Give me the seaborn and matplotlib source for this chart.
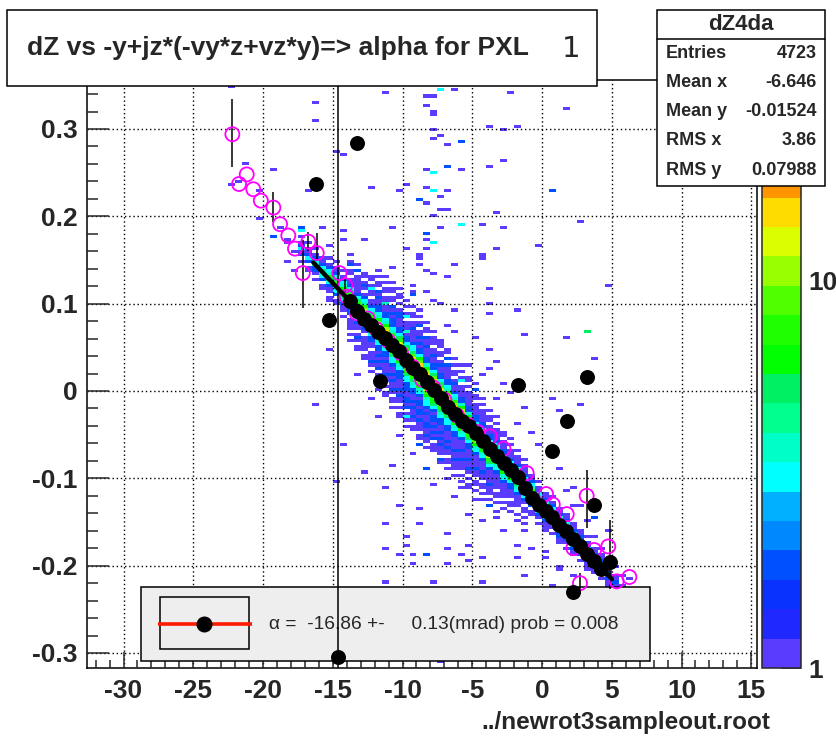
import numpy as np
import pandas as pd
import matplotlib
matplotlib.use("Agg")
import matplotlib.pyplot as plt
import seaborn as sns
from matplotlib.colors import ListedColormap, LogNorm
from matplotlib.patches import Rectangle
from matplotlib.ticker import NullFormatter, MultipleLocator

sns.set_style("white")
plt.rcParams["font.family"] = ["Liberation Sans", "DejaVu Sans"]
plt.rcParams["axes.unicode_minus"] = False

# ------------------------------------------------------------
# histogram binning / ranges
# ------------------------------------------------------------
BIN_W = 0.5
BIN_H = 0.0035
HIST_XRANGE = (-35, 15)
HIST_YRANGE = (-0.35, 0.35)
X_LIM = (-32.62, 15.41)
Y_LIM = (-0.3172, 0.3561)
Z_MIN, Z_MAX = 1, 32.8

# ------------------------------------------------------------
# 2D histogram: band columns (bin centre x, lowest bin y, contents going up)
# ------------------------------------------------------------
band_x = [-17.25, -16.75, -16.25, -15.75, -15.25, -14.75, -14.25, -13.75, -13.25, -12.75,
          -12.25, -11.75, -11.25, -10.75, -10.25, -9.75, -9.25, -8.75, -8.25, -7.75,
          -7.25, -6.75, -6.25, -5.75, -5.25, -4.75, -4.25, -3.75, -3.25, -2.75,
          -2.25, -1.75, -1.25, -0.75, -0.25, 0.25, 0.75, 1.25, 1.75, 2.25,
          2.75, 3.25, 3.75, 4.25, 4.75, 5.25, 5.75]
band_ylo = [0.1476, 0.1391, 0.1272, 0.1187, 0.1067, 0.0983, 0.0863, 0.0568, 0.0449, 0.0364,
            0.0244, 0.0019, -0.0100, -0.0185, -0.0305, -0.0389, -0.0474, -0.0559, -0.0643, -0.0728,
            -0.0813, -0.0898, -0.0982, -0.1032, -0.1117, -0.1166, -0.1251, -0.1336, -0.1385, -0.1330,
            -0.1415, -0.1500, -0.1549, -0.1424, -0.1509, -0.1593, -0.1643, -0.1728, -0.1812, -0.1862,
            -0.1947, -0.2032, -0.2081, -0.2166, -0.2216, -0.2300, -0.2350]
band_counts = [
    [1, 0, 2, 1, 3, 2, 1, 0, 1],
    [1, 1, 0, 2, 3, 2, 1, 1, 0, 1],
    [1, 0, 1, 2, 2, 4, 3, 2, 1, 0, 1],
    [1, 1, 0, 2, 3, 4, 5, 3, 2, 1, 1],
    [1, 0, 1, 1, 2, 3, 5, 6, 4, 3, 2, 1, 0, 1],
    [1, 1, 0, 2, 3, 4, 6, 7, 5, 3, 2, 1, 1, 0, 1],
    [1, 0, 1, 1, 2, 3, 5, 7, 8, 6, 4, 3, 2, 1, 0, 1],
    [1, 0, 1, 0, 1, 1, 1, 1, 0, 2, 2, 4, 6, 8, 9, 7, 5, 3, 2, 1, 1, 0, 1, 1, 0, 1, 1, 0, 1],
    [0, 1, 1, 0, 1, 2, 1, 0, 1, 1, 2, 3, 5, 7, 10, 11, 8, 5, 3, 2, 1, 1, 0, 1, 1, 1, 0, 1, 0, 1],
    [1, 1, 0, 1, 1, 1, 1, 1, 0, 1, 2, 3, 4, 7, 9, 12, 10, 7, 4, 3, 2, 1, 0, 1, 2, 1, 0, 1, 1],
    [1, 0, 1, 2, 1, 1, 1, 0, 1, 1, 2, 2, 3, 5, 8, 11, 13, 11, 8, 5, 3, 2, 1, 1, 0, 1, 1, 2, 1, 0, 1, 1],
    [1, 0, 1, 0, 1, 1, 0, 2, 1, 2, 1, 2, 1, 2, 2, 3, 4, 6, 9, 12, 15, 13, 9, 6, 4, 3, 2, 2, 1, 1, 2,
     1, 1, 0, 1, 1, 0, 1, 0, 1],
    [0, 1, 1, 0, 1, 0, 1, 1, 2, 1, 1, 1, 2, 1, 2, 2, 3, 4, 6, 10, 13, 17, 14, 10, 6, 4, 3, 2, 2, 1, 1,
     2, 1, 1, 0, 1, 1, 0, 1, 0, 1],
    [1, 0, 1, 1, 0, 1, 2, 1, 1, 2, 1, 2, 1, 1, 2, 3, 3, 5, 7, 11, 15, 19, 16, 11, 7, 4, 3, 2, 2, 1, 1, 2,
     1, 2, 0, 1, 1, 0, 1, 1],
    [1, 1, 0, 1, 0, 1, 1, 2, 1, 2, 1, 1, 1, 2, 2, 2, 3, 4, 6, 8, 12, 17, 22, 18, 12, 8, 5, 3, 2, 2, 1, 1, 1,
     2, 1, 1, 0, 1, 0, 1, 1, 0, 1],
    [1, 0, 1, 1, 1, 0, 2, 1, 2, 2, 1, 1, 2, 2, 2, 3, 3, 5, 7, 9, 14, 19, 25, 20, 13, 8, 5, 3, 2, 2, 1, 2,
     1, 1, 1, 0, 2, 1, 0, 1, 0, 1],
    [0, 1, 1, 0, 1, 2, 1, 1, 2, 1, 2, 1, 1, 2, 2, 3, 4, 5, 8, 10, 15, 21, 28, 22, 14, 9, 5, 3, 2, 2, 1, 1, 1,
     1, 2, 1, 1, 0, 1, 1, 0, 1],
    [1, 1, 0, 1, 1, 1, 2, 1, 2, 2, 1, 2, 2, 1, 2, 3, 4, 6, 8, 11, 16, 22, 30, 24, 15, 9, 6, 3, 2, 2, 1, 2, 1,
     2, 1, 1, 0, 1, 1, 0, 1, 0, 1],
    [1, 0, 1, 1, 2, 1, 1, 2, 2, 1, 1, 2, 1, 2, 3, 3, 4, 6, 9, 12, 17, 24, 31, 25, 16, 10, 6, 4, 2, 2, 1, 1,
     1, 2, 1, 1, 1, 0, 1, 1, 0, 1],
    [0, 1, 1, 1, 0, 2, 1, 2, 1, 2, 1, 2, 2, 1, 2, 3, 5, 6, 8, 11, 16, 23, 29, 23, 15, 9, 5, 3, 2, 2, 1, 1,
     2, 1, 1, 0, 1, 1, 1, 0, 1],
    [1, 1, 0, 1, 1, 1, 2, 1, 2, 1, 2, 1, 1, 2, 2, 3, 4, 5, 7, 10, 14, 20, 26, 21, 14, 8, 5, 3, 2, 2, 1,
     1, 2, 1, 0, 1, 1, 0, 1, 0, 1],
    [1, 0, 1, 1, 0, 1, 1, 2, 1, 2, 1, 1, 1, 2, 2, 3, 3, 5, 6, 9, 13, 18, 24, 19, 12, 8, 4, 3, 2, 2, 1, 1,
     1, 1, 2, 0, 1, 0, 1, 1],
    [0, 1, 0, 1, 1, 1, 2, 1, 1, 2, 1, 1, 1, 1, 2, 2, 3, 4, 6, 8, 12, 16, 21, 17, 11, 7, 4, 3, 2, 1, 1,
     2, 1, 0, 1, 1, 0, 1, 0, 1],
    [1, 0, 1, 0, 1, 1, 1, 2, 1, 1, 2, 1, 1, 1, 2, 3, 4, 6, 8, 11, 15, 19, 15, 10, 6, 4, 2, 2, 1, 1, 1,
     1, 0, 1, 1, 0, 1, 0, 1],
    [1, 1, 0, 1, 0, 1, 2, 1, 1, 2, 1, 1, 1, 2, 2, 3, 5, 7, 10, 13, 17, 14, 9, 6, 4, 2, 2, 1, 1, 1,
     1, 1, 0, 1, 0, 1, 1],
    [0, 1, 0, 1, 1, 0, 1, 1, 2, 1, 1, 1, 1, 2, 3, 4, 6, 9, 12, 16, 13, 9, 5, 3, 2, 2, 1, 1, 1,
     1, 0, 1, 1, 0, 1, 0, 1],
    [1, 0, 1, 0, 1, 1, 0, 1, 1, 2, 1, 1, 1, 2, 3, 4, 6, 8, 11, 14, 12, 8, 5, 3, 2, 2, 1, 1,
     1, 1, 0, 1, 0, 1],
    [0, 1, 0, 1, 0, 1, 1, 1, 2, 1, 1, 1, 1, 2, 3, 5, 7, 10, 13, 11, 7, 5, 3, 2, 2, 1, 1, 1,
     0, 1, 1, 0, 1],
    [1, 0, 0, 1, 0, 1, 1, 0, 1, 1, 1, 1, 1, 2, 3, 4, 7, 9, 12, 10, 7, 4, 3, 2, 1, 1, 1,
     1, 0, 1, 0, 1],
    [1, 0, 1, 0, 1, 1, 1, 1, 1, 2, 3, 4, 6, 9, 11, 9, 6, 4, 2, 2, 1, 1, 1, 0, 1, 1],
    [0, 1, 0, 1, 1, 0, 1, 1, 1, 2, 2, 4, 6, 8, 10, 8, 6, 3, 2, 1, 1, 1, 0, 1, 0, 1],
    [1, 0, 1, 0, 0, 1, 1, 1, 1, 2, 3, 4, 5, 7, 10, 8, 5, 3, 2, 1, 1, 1, 0, 1],
    [0, 1, 0, 1, 0, 1, 1, 0, 1, 2, 3, 5, 7, 9, 7, 5, 3, 2, 1, 1, 1, 0, 1],
    [1, 1, 0, 2, 3, 4, 6, 9, 7, 4, 3, 2, 1, 1],
    [1, 0, 1, 2, 3, 4, 6, 8, 6, 4, 3, 1, 1, 0, 1],
    [1, 1, 1, 2, 3, 5, 7, 8, 6, 4, 2, 1, 1],
    [1, 0, 1, 2, 3, 5, 7, 5, 3, 2, 1, 0, 1],
    [1, 1, 2, 2, 3, 5, 7, 5, 4, 2, 1, 1],
    [1, 0, 1, 2, 4, 5, 6, 5, 3, 2, 1, 1],
    [1, 1, 2, 3, 4, 6, 4, 3, 2, 1, 1],
    [1, 0, 2, 3, 4, 5, 4, 2, 2, 1, 1],
    [1, 1, 1, 2, 3, 5, 4, 3, 1, 1, 0, 1],
    [1, 1, 2, 3, 4, 3, 2, 1, 1],
    [1, 0, 2, 2, 3, 3, 2, 1, 1],
    [1, 1, 2, 2, 2, 1, 1],
    [1, 1, 1, 2, 1, 1],
    [1, 0, 1, 1, 1],
]

# scattered cells away from the band
scat_x = [-22.25, -16.25, -16.25, -11.25, -21.25, -21.75, -22.25, -19.25, -20.25, -20.25,
          -14.75, -14.25, -12.25, -10.25, -16.75, -17.25, -17.25, -19.25, -18.75, -18.25,
          -18.25, -15.75, -14.25, -14.25, -12.75, -10.75, -15.25, -17.75, -18.25, -17.75,
          -7.25, -6.25, -8.25, -7.75, -2.25, -8.25, -7.75, -7.75, 1.75, -7.75,
          -7.25, -7.75, -5.75, -6.75, -3.75, -2.75, -1.75, -2.75, -3.75, -6.75,
          -8.25, -7.75, -5.75, -9.75, -8.25, -7.75, -6.75, -8.75, -8.25, -7.25,
          -7.25, -6.75, -7.75, -3.25, 0.75, 2.75, -7.25, -5.75, -4.25, -2.75,
          -8.25, -8.25, -7.75, -0.25, -9.75, -8.25, -3.25, -8.75, -4.25, -10.75,
          -8.75, -8.75, -8.25, -7.75, -6.75, -6.25, -10.75, -9.25, -13.25, -12.25,
          -11.75, -9.25, -8.25, -9.25, -7.75, -7.25, -6.25, -15.25, -13.75, -13.25,
          -11.25, -10.25, -9.75, -10.75, -9.75, -8.25, -9.25, -8.75, -6.75, -6.25,
          -7.25, -6.75, -4.25, -3.75, -3.75, -3.75, -1.75, -1.25, 1.75, 3.75,
          4.75, 3.25, -3.75, -3.25, -3.75, 0.75, 1.25, -0.75, 2.75, 1.75,
          -5.25, -4.25, -2.75, -2.25, -1.25, -3.25, -4.75, -1.75, -5.75, -4.75,
          -16.25, -14.25, -11.25, -9.75, -11.25, -8.25, -7.75, -9.25, -6.75, -12.75,
          -10.25, -8.75, -11.25, -9.75, -8.75, -6.75, -14.75, -15.25, -7.75, -7.25,
          -10.25, -9.25, -8.25, -7.75, -6.25, -5.25, -4.25, -11.75, -12.25, -9.75,
          -8.75, -7.25, -6.75, -5.75, -4.75, -3.75, -3.25, -2.75, -1.75, -1.25,
          -0.75, 0.25, 1.25, 2.25, -5.25, -4.25, -10.75, -13.25, -11.25, -10.25,
          -9.25, -6.75, -5.75, -5.25, -4.25, -1.75, -1.25, 0.25, 0.75, 1.25,
          -0.25, 0.75, 1.25, 2.25, 2.75, 3.25, 3.75, 4.25, 5.25, 5.75,
          6.25, 4.75, 3.75, 2.25, 1.75, 5.25, 4.25, 6.25]
scat_y = [0.347, 0.331, 0.310, 0.343, 0.260, 0.239, 0.236, 0.254, 0.230, 0.199,
          0.275, 0.273, 0.233, 0.231, 0.230, 0.188, 0.183, 0.176, 0.187, 0.174,
          0.170, 0.187, 0.183, 0.172, 0.172, 0.187, 0.166, 0.160, 0.149, 0.137,
          0.345, 0.345, 0.339, 0.337, 0.343, 0.326, 0.320, 0.316, 0.324, 0.300,
          0.293, 0.290, 0.286, 0.281, 0.302, 0.299, 0.302, 0.266, 0.256, 0.259,
          0.255, 0.251, 0.255, 0.237, 0.233, 0.231, 0.230, 0.219, 0.214, 0.222,
          0.210, 0.207, 0.203, 0.205, 0.229, 0.195, 0.188, 0.190, 0.190, 0.188,
          0.179, 0.172, 0.170, 0.168, 0.163, 0.164, 0.163, 0.155, 0.157, 0.143,
          0.151, 0.145, 0.140, 0.135, 0.131, 0.147, 0.126, 0.120, 0.122, 0.118,
          0.113, 0.113, 0.113, 0.109, 0.105, 0.101, 0.094, 0.104, 0.145, 0.137,
          0.100, 0.090, 0.085, 0.081, 0.070, 0.060, 0.050, 0.074, 0.076, 0.067,
          0.055, 0.036, 0.153, 0.116, 0.099, 0.090, 0.094, 0.065, 0.062, 0.036,
          0.120, 0.069, 0.046, 0.034, 0.027, -0.008, -0.023, -0.048, -0.015, -0.038,
          0.030, 0.020, 0.010, -0.003, -0.020, -0.010, 0.002, -0.035, 0.012, 0.060,
          -0.015, -0.061, -0.180, -0.176, -0.220, -0.186, -0.220, -0.197, -0.197, -0.092,
          -0.130, -0.136, -0.153, -0.166, -0.153, -0.164, -0.103, 0.048, -0.277, -0.310,
          -0.050, -0.070, -0.090, -0.105, -0.120, -0.140, -0.150, -0.030, -0.010, -0.030,
          -0.060, -0.080, -0.100, -0.110, -0.125, -0.130, -0.145, -0.160, -0.175, -0.160,
          -0.180, -0.185, -0.200, -0.210, -0.175, -0.190, -0.085, 0.020, -0.110, -0.187,
          -0.188, -0.180, -0.187, -0.194, -0.217, -0.189, -0.212, -0.189, -0.222, -0.205,
          -0.060, -0.070, -0.090, -0.110, -0.130, -0.150, -0.165, -0.180, -0.200, -0.210,
          -0.225, -0.160, -0.145, -0.130, -0.115, -0.232, -0.228, -0.215]
scat_n = [1, 1, 1, 1, 1, 1, 1, 1, 1, 1,
          1, 1, 1, 1, 1, 2, 3, 2, 1, 1,
          1, 1, 1, 1, 1, 1, 1, 1, 1, 1,
          3, 1, 1, 1, 1, 1, 1, 1, 1, 1,
          1, 1, 2, 1, 1, 1, 1, 1, 1, 2,
          1, 3, 1, 1, 1, 3, 1, 2, 1, 1,
          1, 1, 1, 1, 2, 1, 1, 3, 1, 1,
          2, 1, 3, 1, 1, 1, 1, 1, 1, 1,
          1, 1, 1, 1, 1, 1, 1, 1, 1, 1,
          1, 1, 1, 2, 1, 1, 1, 1, 1, 1,
          2, 1, 1, 1, 2, 1, 1, 1, 1, 1,
          1, 1, 1, 1, 1, 1, 1, 1, 1, 1,
          1, 5, 1, 1, 1, 1, 1, 1, 1, 1,
          1, 1, 1, 1, 1, 1, 1, 1, 2, 1,
          1, 1, 1, 1, 1, 2, 1, 1, 1, 1,
          1, 1, 1, 1, 1, 1, 1, 1, 1, 1,
          1, 1, 2, 1, 1, 1, 1, 1, 1, 2,
          2, 1, 1, 1, 1, 1, 1, 1, 1, 1,
          1, 1, 1, 1, 1, 1, 1, 1, 1, 1,
          1, 1, 1, 1, 1, 1, 1, 1, 1, 1,
          1, 1, 1, 1, 1, 1, 1, 1, 1, 1,
          1, 1, 2, 1, 1, 2, 1, 1]

# ------------------------------------------------------------
# profile points (black) and second profile (magenta open circles)
# ------------------------------------------------------------
prof_x = [-13.75, -13.25, -12.75, -12.25, -11.75, -11.25, -10.75, -10.25, -9.75, -9.25,
          -8.75, -8.25, -7.75, -7.25, -6.75, -6.25, -5.75, -5.25, -4.75, -4.25,
          -3.75, -3.25, -2.75, -2.25, -1.75, -1.25, -0.75, -0.25, 0.25, 0.75,
          1.25, 1.75, 2.25, 2.75, 3.25, 3.75, 4.25,
          -16.2, -13.26, -15.27, -11.61, -1.70, 3.25, 1.77, 0.70, 3.73, 2.24, -14.62, 4.87]
prof_y = [0.103, 0.092, 0.082, 0.076, 0.067, 0.061, 0.053, 0.046, 0.035, 0.026,
          0.019, 0.010, 0.001, -0.008, -0.018, -0.026, -0.034, -0.040, -0.048, -0.057,
          -0.066, -0.074, -0.083, -0.091, -0.099, -0.111, -0.122, -0.131, -0.137, -0.144,
          -0.154, -0.160, -0.170, -0.178, -0.187, -0.195, -0.204,
          0.237, 0.284, 0.081, 0.012, 0.007, 0.016, -0.034, -0.069, -0.131, -0.230, -0.305, -0.196]
prof_err_x = [4.87, -14.62]
prof_err_y = [-0.196, -0.305]
prof_err_lo = [0.031, 0.02]
prof_err_hi = [0.048, 0.70]

mag_x = [-22.2, -21.72, -21.17, -20.70, -20.16, -19.26, -18.78, -18.19, -17.71, -17.15,
         -16.75, -16.15, -14.53, -14.10, -14.0, -13.28,
         -12.5, -11.9, -11.0, -10.1, -9.3, -8.6, -7.8, -7.0, -6.1, -5.3, -4.6,
         -3.73, -2.77, -1.10, 0.29, 0.77, 1.77, 2.24, 3.20, 3.73, 4.75, 2.72, 5.35, 6.26]
mag_y = [0.294, 0.237, 0.248, 0.231, 0.218, 0.210, 0.191, 0.178, 0.163, 0.135,
         0.171, 0.158, 0.135, 0.121, 0.108, 0.089,
         0.083, 0.071, 0.057, 0.043, 0.028, 0.013, 0.004, -0.010, -0.028, -0.039, -0.047,
         -0.052, -0.066, -0.094, -0.118, -0.130, -0.141, -0.180, -0.120, -0.182, -0.178, -0.220, -0.218, -0.213]
mag_err_x = [-22.2, -19.26, -17.15, -16.75, -16.15, -14.10, 3.20, 2.72]
mag_err_y = [0.294, 0.210, 0.135, 0.171, 0.158, 0.121, -0.120, -0.220]
mag_err_lo = [0.038, 0.017, 0.040, 0.011, 0.009, 0.008, 0.037, 0.012]
mag_err_hi = [0.040, 0.018, 0.038, 0.011, 0.023, 0.008, 0.029, 0.012]

# straight-line fit (slope in rad)
fit_p0 = -0.1306
fit_p1 = -0.01694
fit_xmin, fit_xmax = -16.4, 5.0

# ------------------------------------------------------------
# text
# ------------------------------------------------------------
title_text = "dZ vs -y+jz*(-vy*z+vz*y)=> alpha for PXL"
title_suffix = "1"
stats_title = "dZ4da"
stats_labels = ["Entries", "Mean x", "Mean y", "RMS x", "RMS y"]
stats_values = ["4723", "-6.646", "-0.01524", "3.86", "0.07988"]
legend_text = "\u03b1 =  -16.86 +-     0.13(mrad) prob = 0.008"
x_label = "../newrot3sampleout.root"
xtick_vals = [-30, -25, -20, -15, -10, -5, 0, 5, 10, 15]
ytick_vals = [-0.3, -0.2, -0.1, 0.0, 0.1, 0.2, 0.3]
cbar_ticks = [1, 10]
cbar_minor = [2, 3, 4, 5, 6, 7, 8, 9, 20, 30]

palette_colors = ["#5a3cff", "#1e28ff", "#0a32ff", "#0050ff", "#0088ff",
                  "#00b0ff", "#00ffff", "#00ffc8", "#00ff8c", "#00f064",
                  "#00ff00", "#1eff00", "#50ff00", "#96ff00", "#dcff00",
                  "#ffdc00", "#ff9600", "#ff6400", "#ff3200", "#ff0000"]

# ------------------------------------------------------------
# build the histogram cells
# ------------------------------------------------------------
rows = []
for cx, ylo, counts in zip(band_x, band_ylo, band_counts):
    for k, n in enumerate(counts):
        if n > 0:
            rows.append((cx, ylo + k * BIN_H, n))
for cx, cy, n in zip(scat_x, scat_y, scat_n):
    rows.append((cx, cy, n))
cells = pd.DataFrame(rows, columns=["x", "y", "n"])

cmap = ListedColormap(palette_colors)

# ------------------------------------------------------------
# figure
# ------------------------------------------------------------
fig = plt.figure(figsize=(8.37, 7.42), dpi=100)
ax = fig.add_axes([87 / 837, 74 / 742, 670 / 837, 588 / 742])
cax = fig.add_axes([762 / 837, 74 / 742, 39 / 837, 588 / 742])

sns.histplot(data=cells, x="x", y="y", weights="n",
             binwidth=(BIN_W, BIN_H), binrange=(HIST_XRANGE, HIST_YRANGE),
             cmap=cmap, ax=ax, zorder=1)
mesh = ax.collections[0]
mesh.set_norm(LogNorm(vmin=Z_MIN, vmax=Z_MAX))

# legend box sits above the histogram but below the markers
ax.add_patch(Rectangle((0.0806, 0.0119), 0.7597, 0.1259, transform=ax.transAxes,
                       facecolor="#eeeeee", edgecolor="black", lw=1.1, zorder=2.7))
ax.add_patch(Rectangle((0.109, 0.0318), 0.1328, 0.0895, transform=ax.transAxes,
                       facecolor="#eeeeee", edgecolor="black", lw=1.1, zorder=2.75))
ax.plot([0.106, 0.2463], [0.0748, 0.0748], transform=ax.transAxes,
        color="#ff1a00", lw=2.6, zorder=2.8, solid_capstyle="butt")
ax.plot([0.1746], [0.0748], "o", transform=ax.transAxes, color="black",
        ms=10.5, zorder=2.85)
ax.text(0.271, 0.0748, legend_text, transform=ax.transAxes, fontsize=13.8,
        va="center", ha="left", zorder=2.9)

# error bars
ax.errorbar(mag_err_x, mag_err_y, yerr=[mag_err_lo, mag_err_hi], fmt="none",
            ecolor="black", elinewidth=1.1, capsize=0, zorder=3.2)
ax.errorbar(prof_err_x, prof_err_y, yerr=[prof_err_lo, prof_err_hi], fmt="none",
            ecolor="black", elinewidth=1.1, capsize=0, zorder=3.2)

sns.scatterplot(x=mag_x, y=mag_y, ax=ax, marker="o", s=102, facecolor="none",
                edgecolor="#ff00ff", linewidth=1.3, zorder=3.4)
sns.scatterplot(x=prof_x, y=prof_y, ax=ax, marker="o", s=116, color="black",
                edgecolor="black", linewidth=0, zorder=3.6)

fit_x = np.array([fit_xmin, fit_xmax])
fit_y = fit_p0 + fit_p1 * fit_x
sns.lineplot(x=fit_x, y=fit_y, ax=ax, color="black", linewidth=3.2, zorder=3.8)

# axes styling
ax.set_xlim(*X_LIM)
ax.set_ylim(*Y_LIM)
ax.set_xlabel("")
ax.set_ylabel("")
ax.set_xticks(xtick_vals)
ax.set_xticklabels([f"{v:g}" for v in xtick_vals], fontsize=19, fontweight="bold")
ax.set_yticks(ytick_vals)
ax.set_yticklabels([f"{v:g}" for v in ytick_vals], fontsize=19, fontweight="bold")
ax.xaxis.set_minor_locator(MultipleLocator(1))
ax.yaxis.set_minor_locator(MultipleLocator(0.02))
ax.tick_params(axis="x", which="major", direction="in", length=11.5, width=1.1,
               pad=8, top=False, bottom=True)
ax.tick_params(axis="x", which="minor", direction="in", length=5.8, width=1.1,
               top=False, bottom=True)
ax.tick_params(axis="y", which="major", direction="in", length=16, width=1.1,
               pad=7, left=True, right=False)
ax.tick_params(axis="y", which="minor", direction="in", length=8, width=1.1,
               left=True, right=False)
ax.set_axisbelow(False)
ax.grid(True, which="major", color="black", linestyle=(0, (1, 2)), linewidth=1.0)
for sp in ax.spines.values():
    sp.set_linewidth(1.1)
    sp.set_color("black")

# colour bar
cb = fig.colorbar(mesh, cax=cax)
cb.outline.set_linewidth(1.1)
cb.set_ticks(cbar_ticks, labels=[str(t) for t in cbar_ticks],
             fontsize=19, fontweight="bold")
cb.set_ticks(cbar_minor, minor=True)
cax.yaxis.set_minor_formatter(NullFormatter())
cax.yaxis.set_ticks_position("right")
cax.tick_params(which="major", direction="in", length=14.4, width=1.1, pad=5)
cax.tick_params(which="minor", direction="in", length=7.2, width=1.1)

# ------------------------------------------------------------
# boxes drawn on top, in pixel coordinates
# ------------------------------------------------------------
deco = fig.add_axes([0, 0, 1, 1], zorder=10)
deco.set_xlim(0, 837)
deco.set_ylim(742, 0)
deco.set_facecolor("none")
deco.axis("off")

deco.add_patch(Rectangle((7, 10), 590, 76, facecolor="white", edgecolor="black", lw=1.1))
deco.text(27, 48, title_text, fontsize=19, fontweight="bold", va="center", ha="left")
deco.text(571, 49, title_suffix, fontsize=21, family="DejaVu Sans", va="center", ha="center")

deco.add_patch(Rectangle((657, 10), 168, 176, facecolor="white", edgecolor="black", lw=1.1))
deco.plot([657, 825], [39, 39], color="black", lw=1.1)
deco.text(741, 24, stats_title, fontsize=16, fontweight="bold", va="center", ha="center")
for i, (lab, val) in enumerate(zip(stats_labels, stats_values)):
    yy = 53 + i * 29.3
    deco.text(666, yy, lab, fontsize=13, fontweight="bold", va="center", ha="left")
    deco.text(817, yy, val, fontsize=13, fontweight="bold", va="center", ha="right")

deco.text(770, 722, x_label, fontsize=17.5, fontweight="bold", va="center", ha="right")

fig.savefig("out.png", dpi=100)
